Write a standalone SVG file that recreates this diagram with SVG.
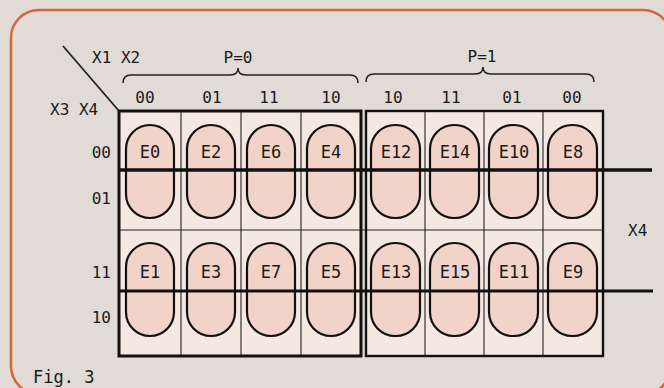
<svg xmlns="http://www.w3.org/2000/svg" width="664" height="388" viewBox="0 0 664 388">
<defs>
<style>
.t{font-family:"DejaVu Sans Mono","Liberation Mono",monospace;fill:#1a1a1a}
.lb{font-size:16px}
.e{font-size:17px;text-anchor:middle}
.c{text-anchor:middle}
.r{text-anchor:end}
.pill{fill:#f1d3c9;stroke:#111;stroke-width:2.2}
.thin{stroke:#222;stroke-width:1.1;fill:none}
.thick{stroke:#111;stroke-width:3;fill:none}
.brace{stroke:#222;stroke-width:1.6;fill:none}
</style>
</defs>
<rect x="0" y="0" width="664" height="388" fill="#e0dcd5"/>
<rect x="11" y="10" width="660" height="384" rx="28" fill="#e0dcd5" stroke="#d8643a" stroke-width="2.5"/>

<g id="labels">
<line x1="63" y1="46" x2="119" y2="111" stroke="#222" stroke-width="1.8"/>
<text class="t lb" x="92" y="63">X1 X2</text>
<text class="t lb" x="50" y="115">X3 X4</text>
<text class="t lb c" x="238" y="63">P=0</text>
<text class="t lb c" x="482" y="62">P=1</text>
<path class="brace" d="M123,83 Q123,75 131,75 L230,75 Q238,75 238,68 Q238,75 246,75 L350,75 Q358,75 358,83"/>
<path class="brace" d="M366,82 Q366,74 374,74 L475,74 Q483,74 483,67 Q483,74 491,74 L586,74 Q594,74 594,82"/>
<text class="t lb c" x="145" y="103">00</text>
<text class="t lb c" x="212" y="103">01</text>
<text class="t lb c" x="269" y="103">11</text>
<text class="t lb c" x="331" y="103">10</text>
<text class="t lb c" x="393" y="103">10</text>
<text class="t lb c" x="451" y="103">11</text>
<text class="t lb c" x="512" y="103">01</text>
<text class="t lb c" x="572" y="103">00</text>
<text class="t lb r" x="111" y="158">00</text>
<text class="t lb r" x="111" y="204">01</text>
<text class="t lb r" x="111" y="278">11</text>
<text class="t lb r" x="111" y="323">10</text>
<text class="t lb" x="628" y="236">X4</text>
<text class="t" style="font-size:17px" x="33" y="383">Fig. 3</text>
</g>

<g id="grid">
<rect x="119" y="111" width="242" height="245" fill="#f4e8e0"/>
<rect x="366" y="111" width="237" height="245" fill="#f4e8e0"/>
<line class="thin" x1="181" y1="111" x2="181" y2="356"/>
<line class="thin" x1="241" y1="111" x2="241" y2="356"/>
<line class="thin" x1="301" y1="111" x2="301" y2="356"/>
<line class="thin" x1="425" y1="111" x2="425" y2="356"/>
<line class="thin" x1="484" y1="111" x2="484" y2="356"/>
<line class="thin" x1="543" y1="111" x2="543" y2="356"/>
<line class="thin" x1="119" y1="230" x2="603" y2="230"/>
<rect class="thick" x="119" y="111" width="242" height="245"/>
<rect class="thick" x="366" y="111" width="237" height="245" style="stroke-width:2.4"/>
</g>

<g id="E0"><rect class="pill" x="126" y="125" width="48" height="93" rx="24"/><text class="t e" x="150" y="158">E0</text></g>
<g id="E2"><rect class="pill" x="187" y="125" width="48" height="93" rx="24"/><text class="t e" x="211" y="158">E2</text></g>
<g id="E6"><rect class="pill" x="247" y="125" width="48" height="93" rx="24"/><text class="t e" x="271" y="158">E6</text></g>
<g id="E4"><rect class="pill" x="307" y="125" width="48" height="93" rx="24"/><text class="t e" x="331" y="158">E4</text></g>
<g id="E12"><rect class="pill" x="371" y="125" width="49" height="93" rx="24"/><text class="t e" x="396" y="158">E12</text></g>
<g id="E14"><rect class="pill" x="430" y="125" width="49" height="93" rx="24"/><text class="t e" x="455" y="158">E14</text></g>
<g id="E10"><rect class="pill" x="489" y="125" width="49" height="93" rx="24"/><text class="t e" x="514" y="158">E10</text></g>
<g id="E8"><rect class="pill" x="548" y="125" width="49" height="93" rx="24"/><text class="t e" x="573" y="158">E8</text></g>

<g id="E1"><rect class="pill" x="126" y="243" width="48" height="93" rx="24"/><text class="t e" x="150" y="278">E1</text></g>
<g id="E3"><rect class="pill" x="187" y="243" width="48" height="93" rx="24"/><text class="t e" x="211" y="278">E3</text></g>
<g id="E7"><rect class="pill" x="247" y="243" width="48" height="93" rx="24"/><text class="t e" x="271" y="278">E7</text></g>
<g id="E5"><rect class="pill" x="307" y="243" width="48" height="93" rx="24"/><text class="t e" x="331" y="278">E5</text></g>
<g id="E13"><rect class="pill" x="371" y="243" width="49" height="93" rx="24"/><text class="t e" x="396" y="278">E13</text></g>
<g id="E15"><rect class="pill" x="430" y="243" width="49" height="93" rx="24"/><text class="t e" x="455" y="278">E15</text></g>
<g id="E11"><rect class="pill" x="489" y="243" width="49" height="93" rx="24"/><text class="t e" x="514" y="278">E11</text></g>
<g id="E9"><rect class="pill" x="548" y="243" width="49" height="93" rx="24"/><text class="t e" x="573" y="278">E9</text></g>

<g id="connectors">
<line x1="119" y1="170" x2="652" y2="170" stroke="#111" stroke-width="3.5"/>
<line x1="119" y1="291" x2="653" y2="291" stroke="#111" stroke-width="3.2"/>
</g>
</svg>
